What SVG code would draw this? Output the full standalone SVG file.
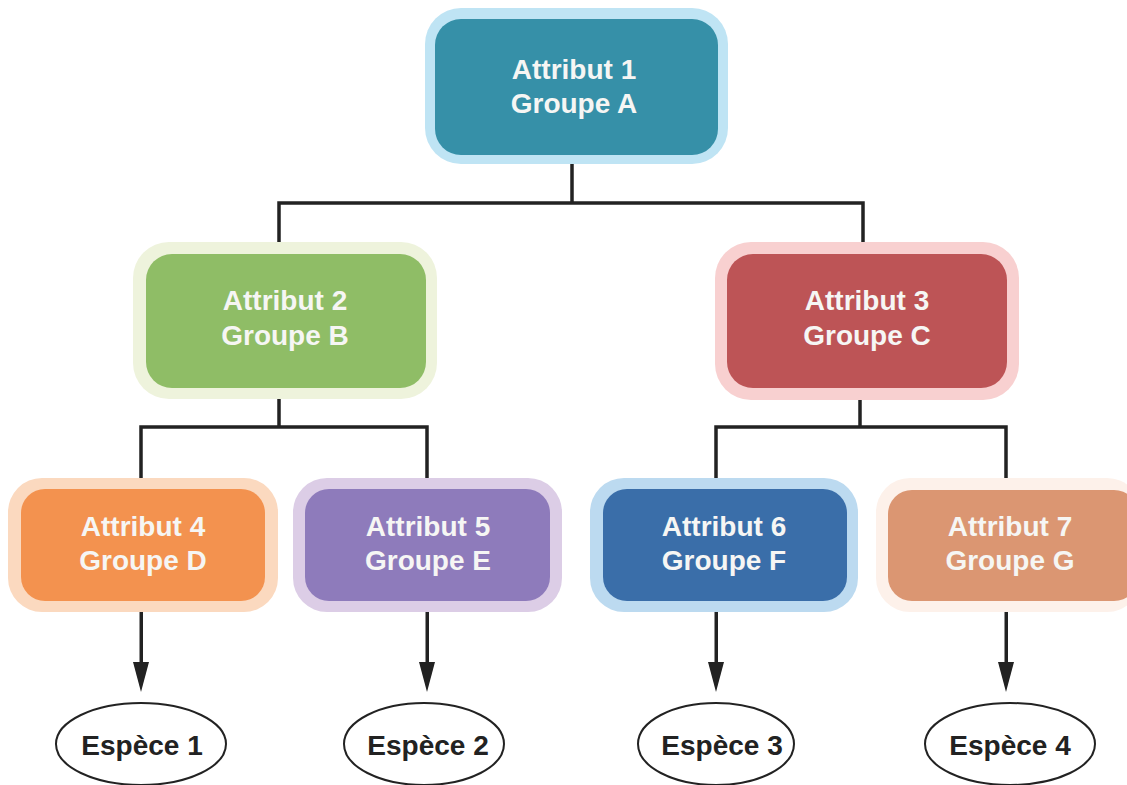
<svg xmlns="http://www.w3.org/2000/svg" width="1127" height="785" viewBox="0 0 1127 785">
<style>
.halo{stroke:none}
.box{stroke:none}
.lbl{font-family:"Liberation Sans",Arial,sans-serif;font-weight:bold;font-size:28px;fill:#f6f6f4;text-anchor:middle}
.sp{font-family:"Liberation Sans",Arial,sans-serif;font-weight:bold;font-size:28px;fill:#222;text-anchor:middle}
.ell{fill:#fff;stroke:#222;stroke-width:2}
.conn{fill:none;stroke:#222;stroke-width:3.5;stroke-linejoin:miter;stroke-linecap:butt}
</style>
<defs>
<marker id="ah" markerWidth="16" markerHeight="30" refX="8" refY="0" orient="auto" markerUnits="userSpaceOnUse" viewBox="0 0 16 30">
<path d="M0,0 L16,0 L8,30 Z" fill="#222"/>
</marker>
</defs>
<rect width="1127" height="785" fill="#fff"/>
<g id="connectors">
<path class="conn" d="M572,163 V203 M279,242 V203 H863 V242"/>
<path class="conn" d="M279,398 V427 M141,478 V427 H427 V478"/>
<path class="conn" d="M860,400 V427 M716,478 V427 H1006 V478"/>
<g fill="#222">
<rect x="139.5" y="612" width="3.5" height="50"/><path d="M133,662 H149 L141,692 Z"/>
<rect x="425.5" y="612" width="3.5" height="50"/><path d="M419,662 H435 L427,692 Z"/>
<rect x="714.5" y="612" width="3.5" height="50"/><path d="M708,662 H724 L716,692 Z"/>
<rect x="1004.5" y="612" width="3.5" height="50"/><path d="M998,662 H1014 L1006,692 Z"/>
</g>
</g>
<g id="nodeA">
<rect class="halo" x="425" y="8" width="303" height="156" rx="36" fill="#bfe4f4"/>
<rect class="box" x="435" y="19" width="283" height="136" rx="26" fill="#3690a8"/>
<text class="lbl" x="574" y="79">Attribut 1</text>
<text class="lbl" x="574" y="113">Groupe A</text>
</g>
<g id="nodeB">
<rect class="halo" x="133" y="242" width="304" height="157" rx="36" fill="#eef3dc"/>
<rect class="box" x="146" y="254" width="280" height="134" rx="26" fill="#8fbd66"/>
<text class="lbl" x="285" y="310">Attribut 2</text>
<text class="lbl" x="285" y="345">Groupe B</text>
</g>
<g id="nodeC">
<rect class="halo" x="715" y="242" width="304" height="158" rx="36" fill="#f8d0d0"/>
<rect class="box" x="727" y="254" width="280" height="134" rx="26" fill="#bd5456"/>
<text class="lbl" x="867" y="310">Attribut 3</text>
<text class="lbl" x="867" y="345">Groupe C</text>
</g>
<g id="nodeD">
<rect class="halo" x="8" y="478" width="270" height="134" rx="34" fill="#fbd9bf"/>
<rect class="box" x="21" y="489" width="244" height="112" rx="24" fill="#f3924f"/>
<text class="lbl" x="143" y="536">Attribut 4</text>
<text class="lbl" x="143" y="570">Groupe D</text>
</g>
<g id="nodeE">
<rect class="halo" x="293" y="478" width="269" height="134" rx="34" fill="#dccde6"/>
<rect class="box" x="305" y="489" width="245" height="112" rx="24" fill="#8e7bbb"/>
<text class="lbl" x="428" y="536">Attribut 5</text>
<text class="lbl" x="428" y="570">Groupe E</text>
</g>
<g id="nodeF">
<rect class="halo" x="590" y="478" width="268" height="134" rx="34" fill="#bcdaf0"/>
<rect class="box" x="603" y="489" width="244" height="112" rx="24" fill="#3a6ea9"/>
<text class="lbl" x="724" y="536">Attribut 6</text>
<text class="lbl" x="724" y="570">Groupe F</text>
</g>
<g id="nodeG">
<rect class="halo" x="876" y="478" width="265" height="134" rx="34" fill="#fdf1ea"/>
<rect class="box" x="888" y="490" width="250" height="111" rx="24" fill="#db9672"/>
<text class="lbl" x="1010" y="536">Attribut 7</text>
<text class="lbl" x="1010" y="570">Groupe G</text>
</g>
<g id="sp1"><ellipse class="ell" cx="141" cy="744" rx="85" ry="41"/><text class="sp" x="142" y="755">Espèce 1</text></g>
<g id="sp2"><ellipse class="ell" cx="424" cy="744" rx="80" ry="41"/><text class="sp" x="428" y="755">Espèce 2</text></g>
<g id="sp3"><ellipse class="ell" cx="716" cy="744" rx="78" ry="41"/><text class="sp" x="722" y="755">Espèce 3</text></g>
<g id="sp4"><ellipse class="ell" cx="1010" cy="744" rx="85" ry="41"/><text class="sp" x="1010" y="755">Espèce 4</text></g>
</svg>
